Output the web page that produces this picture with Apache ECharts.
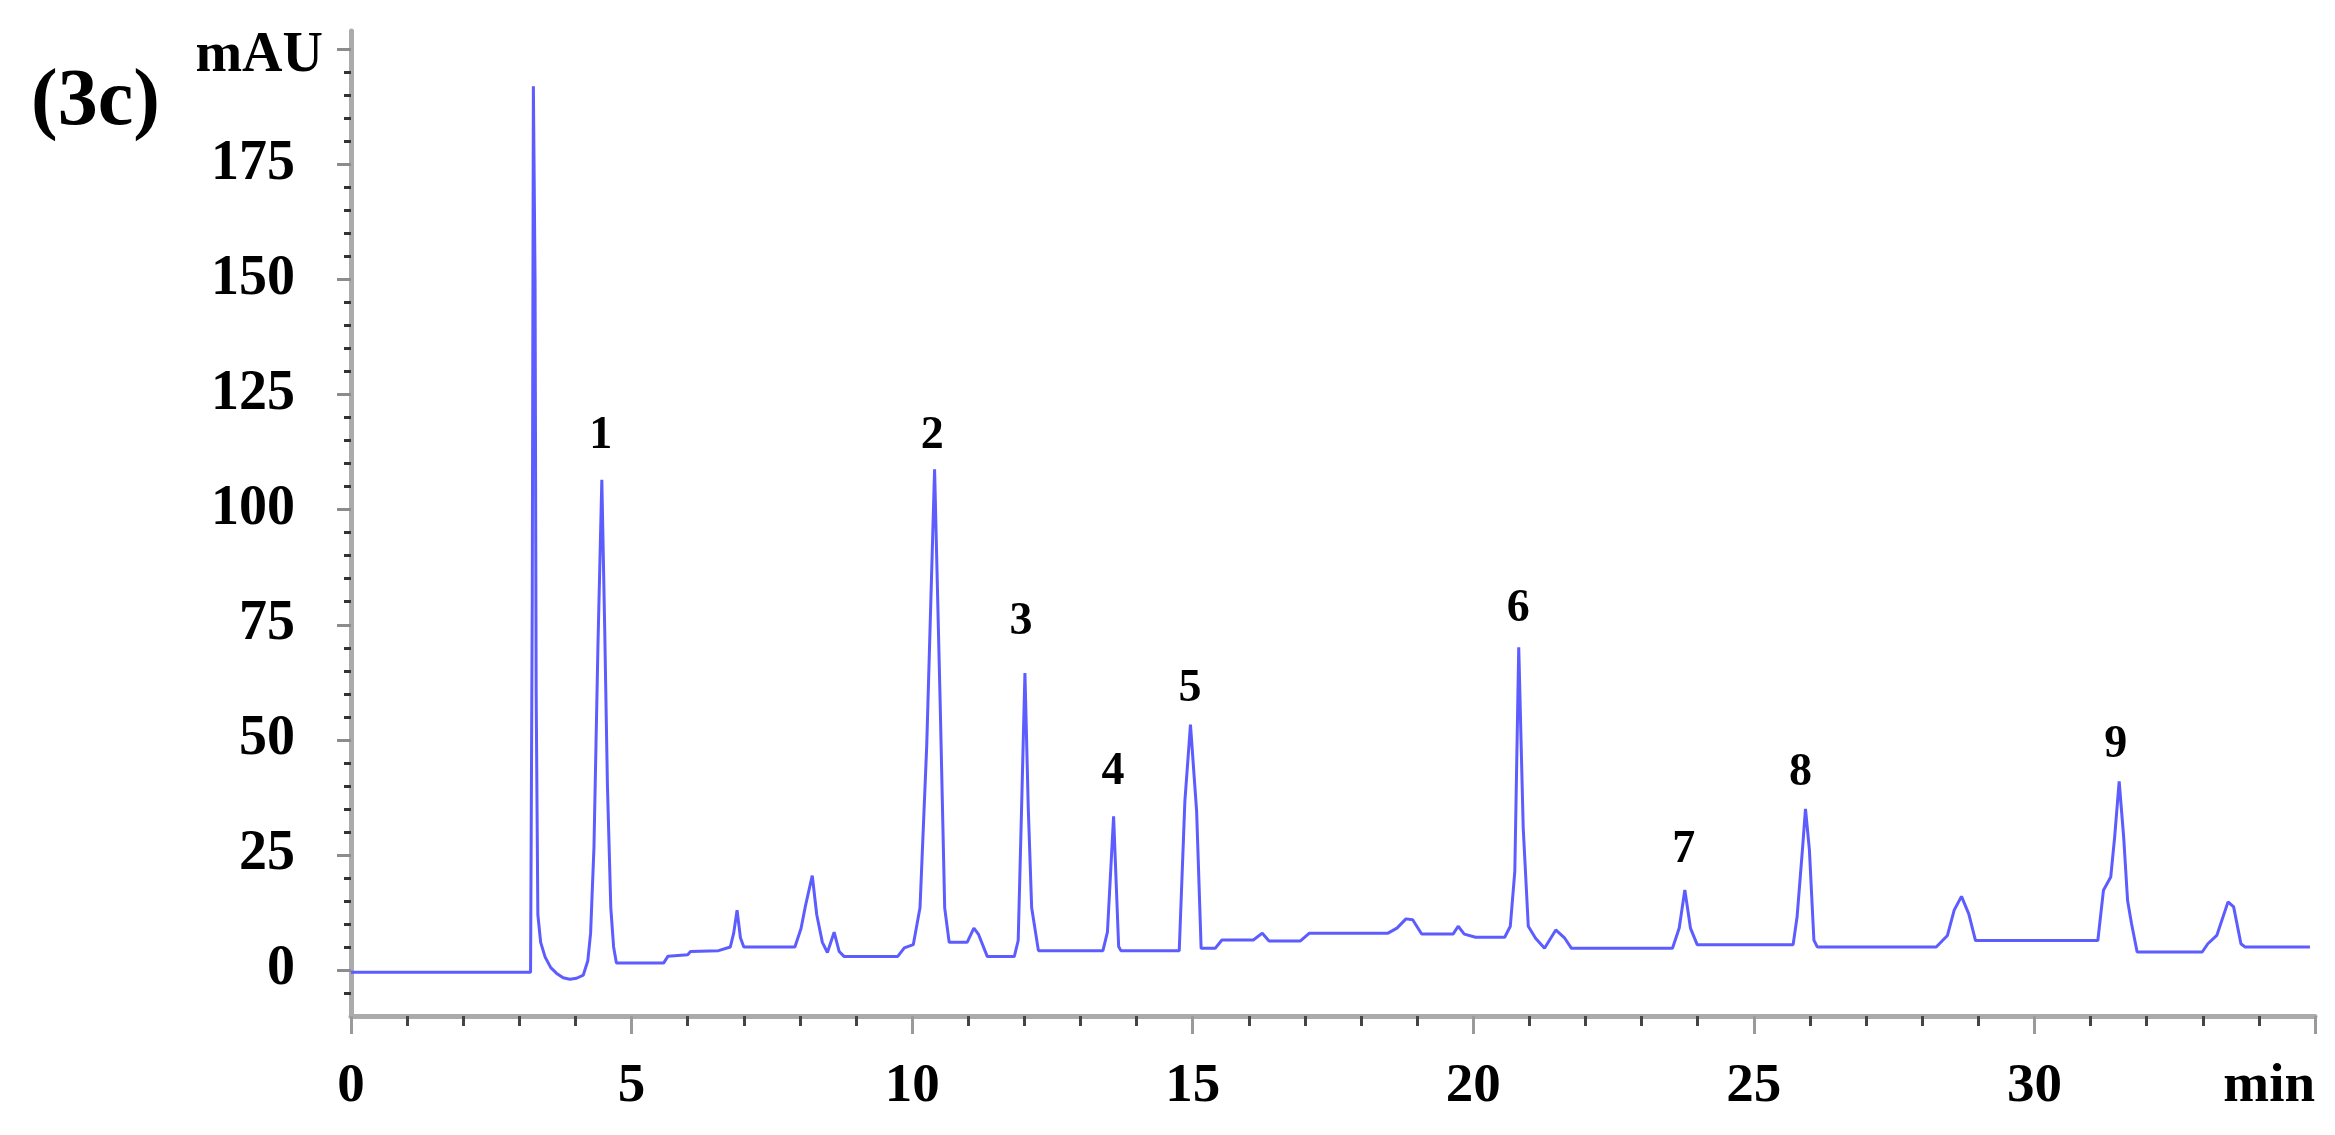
<!DOCTYPE html>
<html>
<head>
<meta charset="utf-8">
<script src="https://cdn.jsdelivr.net/npm/echarts@6/dist/echarts.min.js"></script>
<style>
html,body{margin:0;padding:0;background:#fff;}
#chart{width:2335px;height:1135px;}
</style>
</head>
<body>
<div id="chart"></div>
<script>
// Retention time (min)
const retentionTimes = [
  0, 3.20, 3.23, 3.25, 3.28, 3.30, 3.33, 3.38, 3.46, 3.56, 3.66, 3.78, 3.90, 4.02, 4.14,
  4.22, 4.27, 4.33, 4.40, 4.47, 4.52, 4.57, 4.63, 4.68, 4.73, 5.57, 5.65, 6.00, 6.05, 6.55,
  6.76, 6.82, 6.88, 6.94, 7.00, 7.91, 8.02, 8.10, 8.22, 8.30, 8.40, 8.49, 8.61, 8.70, 8.79,
  9.74, 9.86, 10.02, 10.14, 10.26, 10.40, 10.50, 10.58, 10.66, 10.98, 11.10, 11.18, 11.34, 11.82, 11.89,
  11.95, 12.01, 12.07, 12.13, 12.25, 13.40, 13.48, 13.59, 13.68, 13.72, 14.76, 14.86, 14.96, 15.07, 15.15,
  15.40, 15.52, 16.08, 16.24, 16.36, 16.92, 17.08, 18.48, 18.64, 18.80, 18.92, 19.08, 19.64, 19.73, 19.84,
  20.04, 20.56, 20.66, 20.74, 20.81, 20.89, 20.98, 21.11, 21.27, 21.47, 21.63, 21.75, 23.55, 23.67, 23.77,
  23.87, 23.99, 25.70, 25.77, 25.87, 25.92, 25.99, 26.07, 26.13, 28.25, 28.45, 28.57, 28.70, 28.83, 28.95,
  31.13, 31.23, 31.36, 31.43, 31.51, 31.59, 31.66, 31.73, 31.83, 32.99, 33.09, 33.25, 33.45, 33.55, 33.68,
  33.75, 34.91
];
// Absorbance (mAU)
const absorbance = [
  -0.5, -0.5, 80, 192, 150, 60, 12, 6, 2.8, 0.5, -0.7, -1.7, -2.0, -1.8, -1.1,
  2, 8, 26.7, 70, 106.5, 75, 40, 13.5, 5, 1.5, 1.5, 3.0, 3.3, 4.0, 4.2,
  5.0, 8, 13.0, 7, 5.0, 5.0, 9, 14, 20.5, 12, 6, 3.8, 8.2, 4, 2.9,
  2.9, 4.8, 5.5, 13.5, 48.8, 108.8, 57.7, 13.5, 6, 6, 9.1, 7.8, 2.9, 2.9, 6.4,
  35, 64.5, 35, 13.5, 4.2, 4.2, 8.2, 33.4, 5.1, 4.2, 4.2, 36.6, 53.3, 34.4, 4.7,
  4.7, 6.5, 6.5, 8.0, 6.3, 6.3, 8.0, 8.0, 9.1, 11.1, 10.9, 7.8, 7.8, 9.5, 7.8,
  7.1, 7.1, 9.5, 21.4, 70.1, 30.8, 9.5, 6.9, 4.7, 8.7, 6.9, 4.7, 4.7, 9.1, 17.4,
  9.1, 5.5, 5.5, 11.5, 26.8, 35, 26.1, 6.5, 5.0, 5.0, 7.5, 13.0, 16.0, 12.2, 6.4,
  6.4, 17.3, 20.2, 28.9, 41, 28.9, 15.1, 10.1, 3.9, 3.9, 5.7, 7.5, 14.8, 13.7, 5.7,
  5.0, 5.0
];
// Peak annotations
const peakLabels = ['1', '2', '3', '4', '5', '6', '7', '8', '9'];
const peakLabelTimes = [4.45, 10.36, 11.94, 13.58, 14.95, 20.80, 23.75, 25.83, 31.45];
const peakLabelHeights = [116, 116, 75.5, 43, 61, 78.3, 26, 42.7, 48.8];
// Axis ticks
const xMajorTicks = [0, 5, 10, 15, 20, 25, 30, 35];
const xTickLabels = [0, 5, 10, 15, 20, 25, 30];
const yMajorTicks = [0, 25, 50, 75, 100, 125, 150, 175, 200];
const yTickLabels = [0, 25, 50, 75, 100, 125, 150, 175];

const xMinorTicks = [];
for (let t = 1; t < 35; t++) if (t % 5 !== 0) xMinorTicks.push(t);
const yMinorTicks = [];
for (let v = -5; v < 200; v += 5) if (v % 25 !== 0) yMinorTicks.push(v);

const FONT = '"Liberation Serif", "Times New Roman", serif';
const lineData = retentionTimes.map((t, i) => [t, absorbance[i]]);
const labelData = peakLabels.map((n, i) => ({ name: n, value: [peakLabelTimes[i], peakLabelHeights[i]] }));

const chart = echarts.init(document.getElementById('chart'), null, { renderer: 'canvas' });
const axisLineStyle = { color: '#ababab', width: 5 };
chart.setOption({
  animation: false,
  backgroundColor: '#ffffff',
  title: {
    text: '(3c)', left: 31, top: 63, padding: 0,
    textStyle: { fontFamily: FONT, fontWeight: 'bold', fontSize: 80, color: '#000' }
  },
  grid: { left: 351, right: 20, top: 31, bottom: 119, containLabel: false },
  xAxis: [
    {
      type: 'value', min: 0, max: 35, interval: 5, position: 'bottom',
      axisLine: { show: true, onZero: false, lineStyle: axisLineStyle },
      axisTick: { show: true, inside: false, length: 18, customValues: xMajorTicks, lineStyle: { color: '#9a9a9a', width: 3 } },
      axisLabel: { show: true, customValues: xTickLabels, margin: 43, fontFamily: FONT, fontWeight: 'bold', fontSize: 55, color: '#000' },
      splitLine: { show: false },
      name: 'min', nameLocation: 'end', nameGap: 0,
      nameTextStyle: { fontFamily: FONT, fontWeight: 'bold', fontSize: 55, color: '#000', align: 'right', verticalAlign: 'top', padding: [43, 0, 0, 0] }
    },
    {
      type: 'value', min: 0, max: 35, interval: 5, position: 'bottom',
      axisLine: { show: false, onZero: false },
      axisTick: { show: true, inside: false, length: 10, customValues: xMinorTicks, lineStyle: { color: '#444', width: 3 } },
      axisLabel: { show: false },
      splitLine: { show: false }
    }
  ],
  yAxis: [
    {
      type: 'value', min: -10, max: 204, position: 'left',
      axisLine: { show: true, onZero: false, lineStyle: axisLineStyle },
      axisTick: { show: true, inside: false, length: 14, customValues: yMajorTicks, lineStyle: { color: '#8c8c8c', width: 3 } },
      axisLabel: { show: true, customValues: yTickLabels, margin: 56, fontFamily: FONT, fontWeight: 'bold', fontSize: 56, color: '#000' },
      splitLine: { show: false },
      name: 'mAU', nameLocation: 'end', nameGap: -26,
      nameTextStyle: { fontFamily: FONT, fontWeight: 'bold', fontSize: 56, color: '#000', align: 'right', verticalAlign: 'middle', padding: [0, 28, 0, 0] }
    },
    {
      type: 'value', min: -10, max: 204, position: 'left',
      axisLine: { show: false, onZero: false },
      axisTick: { show: true, inside: false, length: 7, customValues: yMinorTicks, lineStyle: { color: '#333', width: 3 } },
      axisLabel: { show: false },
      splitLine: { show: false }
    }
  ],
  series: [
    {
      type: 'line', xAxisIndex: 0, yAxisIndex: 0, data: lineData,
      showSymbol: false, symbol: 'none', smooth: false, clip: false,
      lineStyle: { color: '#5c5cff', width: 3 }
    },
    {
      type: 'scatter', xAxisIndex: 0, yAxisIndex: 0, data: labelData,
      symbolSize: 0, itemStyle: { color: 'rgba(0,0,0,0)' },
      label: {
        show: true, position: 'inside', formatter: p => p.name,
        fontFamily: FONT, fontWeight: 'bold', fontSize: 46, color: '#000',
        textBorderWidth: 0, textBorderColor: 'transparent', opacity: 1
      },
      emphasis: { disabled: true }
    }
  ]
});
</script>
</body>
</html>
